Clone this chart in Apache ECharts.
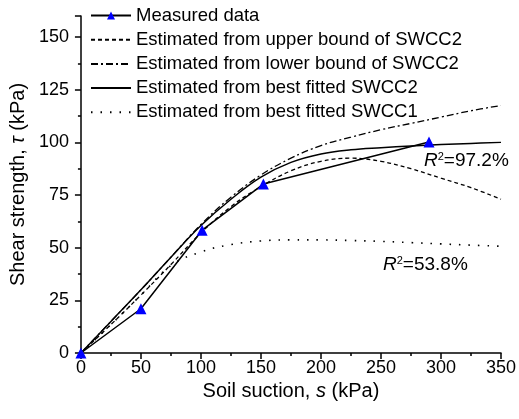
<!DOCTYPE html>
<html>
<head>
<meta charset="utf-8">
<script src="https://cdn.jsdelivr.net/npm/echarts@6/dist/echarts.min.js"></script>
<style>
html,body{margin:0;padding:0;background:#fff;}
#chart{width:519px;height:419px;}
</style>
</head>
<body>
<div id="chart"></div>
<script>
// Measured data
var measuredS = [0, 50, 101, 152, 290];
var measuredTau = [0, 21, 58.3, 80.2, 100.2];

// Estimated curves share a suction grid
var suction = [0, 25, 50, 75, 100, 125, 150, 175, 200, 225, 250, 275, 300, 325, 350];
var upperBoundSWCC2 = [0, 13.5, 27.5, 42, 57, 69.5, 79, 86.5, 91, 92.5, 91, 87.5, 83, 78.5, 73];
var lowerBoundSWCC2 = [0, 15, 30, 45.5, 61, 74, 84.5, 92.5, 98.5, 102.5, 106, 109, 112, 115, 117.5];
var bestSWCC2 = [0, 15, 30, 45.5, 60.5, 73, 83.5, 90.5, 94.5, 96.5, 97.5, 98.3, 99, 99.5, 100];
var bestSWCC1 = [0, 13.5, 27.5, 41.5, 48, 51.5, 53.2, 53.7, 53.7, 53.4, 53, 52.4, 51.8, 51.2, 50.7];

var seriesNames = [
  'Measured data',
  'Estimated from upper bound of SWCC2',
  'Estimated from lower bound of SWCC2',
  'Estimated from best fitted SWCC2',
  'Estimated from best fitted SWCC1'
];
var xTicks = [0, 50, 100, 150, 200, 250, 300, 350];
var yTicks = [0, 25, 50, 75, 100, 125, 150];
var annotations = ['97.2%', '53.8%'];

function pairs(xs, ys) { return xs.map(function (x, i) { return [x, ys[i]]; }); }

var FONT = 'Liberation Sans, Arial, sans-serif';
var chart = echarts.init(document.getElementById('chart'));

function curve(name, ys, type, width) {
  return {
    name: name, type: 'line', data: pairs(suction, ys), smooth: 0.4,
    symbol: 'none', silent: true,
    lineStyle: { color: '#000', width: width, type: type, cap: 'butt' },
    itemStyle: { color: '#000' }, z: 2
  };
}

function r2Text(val) {
  return {
    text: '{r|R}{s|2}{n|=' + val + '}', fill: '#000',
    rich: { r: { fontStyle: 'italic', fontFamily: FONT, fontSize: 19 },
            s: { fontFamily: FONT, fontSize: 11, verticalAlign: 'top', padding: [0, 0, 9, 0] },
            n: { fontFamily: FONT, fontSize: 19 } }
  };
}

var legendData = seriesNames.map(function (n, i) {
  return i === 0 ? { name: n } : { name: n, itemStyle: { opacity: 0 } };
});

chart.setOption({
  animation: false,
  backgroundColor: '#fff',
  grid: { left: 80, right: 18, top: 16, bottom: 66 },
  legend: {
    orient: 'vertical', left: 90, top: 6, padding: 0, itemGap: 5.2, itemWidth: 40, itemHeight: 10,
    itemTextGap: 4,
    textStyle: { fontFamily: FONT, fontSize: 18.5, color: '#000' },
    data: legendData
  },
  xAxis: {
    type: 'value', min: 0, max: 350, interval: 50,
    name: 'Soil suction, {i|s} (kPa)', nameLocation: 'middle', nameGap: 28,
    nameTextStyle: { fontFamily: FONT, fontSize: 20, color: '#000',
      rich: { i: { fontStyle: 'italic', fontFamily: FONT, fontSize: 20 } } },
    axisLine: { lineStyle: { color: '#000', width: 1.5 } },
    axisTick: { inside: false, length: 6, lineStyle: { color: '#000', width: 1.5 } },
    minorTick: { show: true, splitNumber: 2, length: 3, lineStyle: { color: '#000', width: 1.5 } },
    axisLabel: { fontFamily: FONT, fontSize: 18, color: '#000', margin: 6,
      formatter: function (v) { return xTicks.indexOf(v) >= 0 ? String(v) : ''; } },
    splitLine: { show: false }
  },
  yAxis: {
    type: 'value', min: 0, max: 160, interval: 25,
    name: 'Shear strength, {i|τ} (kPa)', nameLocation: 'middle', nameGap: 50,
    nameTextStyle: { fontFamily: FONT, fontSize: 20, color: '#000',
      rich: { i: { fontStyle: 'italic', fontFamily: FONT, fontSize: 20 } } },
    axisLine: { show: true, lineStyle: { color: '#000', width: 1.5 } },
    axisTick: { show: true, inside: false, length: 6, lineStyle: { color: '#000', width: 1.5 } },
    minorTick: { show: true, splitNumber: 2, length: 3, lineStyle: { color: '#000', width: 1.5 } },
    axisLabel: { fontFamily: FONT, fontSize: 18, color: '#000', margin: 12,
      formatter: function (v) { return yTicks.indexOf(v) >= 0 ? String(v) : ''; } },
    splitLine: { show: false }
  },
  graphic: [
    { type: 'text', left: 424, top: 151, style: r2Text(annotations[0]) },
    { type: 'text', left: 383, top: 255, style: r2Text(annotations[1]) }
  ],
  series: [
    {
      name: seriesNames[0], type: 'line', data: pairs(measuredS, measuredTau),
      symbol: 'triangle', symbolSize: 11, showSymbol: true,
      lineStyle: { color: '#000', width: 1.5 },
      itemStyle: { color: '#0000ff' }, z: 5
    },
    curve(seriesNames[1], upperBoundSWCC2, [4, 3], 1.3),
    curve(seriesNames[2], lowerBoundSWCC2, [7, 3, 2, 3], 1.3),
    curve(seriesNames[3], bestSWCC2, 'solid', 1.5),
    curve(seriesNames[4], bestSWCC1, [1.5, 8], 1.6)
  ]
});
</script>
</body>
</html>
